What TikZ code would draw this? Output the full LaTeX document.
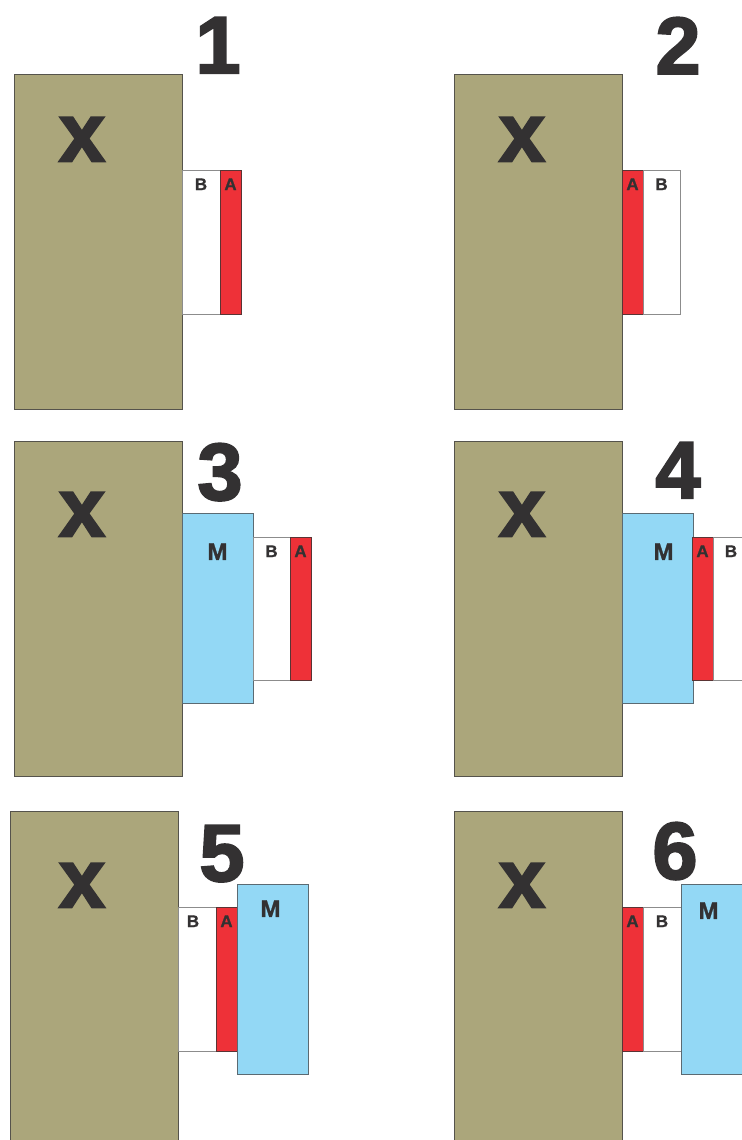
\documentclass[tikz,border=0pt]{standalone}
\usepackage{fontspec}
\setmainfont{Liberation Sans}
\newfontfamily\heavy{Liberation Sans Bold}[FakeBold=2.5]
\newfontfamily\semiheavy{Liberation Sans Bold}[FakeBold=1]
\usetikzlibrary{positioning}
\definecolor{khaki}{HTML}{ABA67B}
\definecolor{xedge}{HTML}{55534C}
\definecolor{ared}{HTML}{EE3138}
\definecolor{aedge}{HTML}{5A3434}
\definecolor{bedge}{HTML}{8C8C8C}
\definecolor{mblue}{HTML}{93D8F5}
\definecolor{medge}{HTML}{5B6A72}
\definecolor{ink}{HTML}{333132}
\tikzset{
  base/.style={rectangle, inner sep=0pt, outer sep=0pt, anchor=north west, line width=0.5pt},
  xbox/.style={base, draw=xedge, fill=khaki, minimum width=84pt, minimum height=167.5pt},
  bbox/.style={base, draw=bedge, fill=white, minimum width=19pt, minimum height=72pt},
  abox/.style={base, draw=aedge, fill=ared, minimum width=10.5pt, minimum height=72pt},
  mbox/.style={base, draw=medge, fill=mblue, minimum width=35.5pt, minimum height=95pt},
  num/.style={font=\heavy\fontsize{40.5}{40.5}\selectfont, text=ink, inner sep=0pt, anchor=north},
  big/.style={font=\heavy\fontsize{41.5}{41.5}\selectfont, text=ink, inner sep=0pt},
  tag/.style={font=\semiheavy\fontsize{8.5}{8.5}\selectfont, text=ink, inner sep=0pt},
  mtag/.style={font=\semiheavy\fontsize{12}{12}\selectfont, text=ink, inner sep=0pt}
}
\begin{document}
\begin{tikzpicture}[x=0.5pt, y=-0.5pt, node distance=4pt]
\clip (0,0) rectangle (742,1140);

% 1
\node[xbox] (x1) at (14,74) {};
\node[bbox] (b1) at (182,170) {};
\node[abox] (a1) at (220,170) {};
\node[num] (n1) at (218,17) {1};
\node[big, below=21.5pt of x1.north, xshift=-8pt] (l1) {x};
\node[tag, below=of b1.north] (tb1) {B};
\node[tag, below=of a1.north] (ta1) {A};

% 2
\node[xbox] (x2) at (454,74) {};
\node[abox] (a2) at (622,170) {};
\node[bbox, minimum width=18.5pt] (b2) at (643,170) {};
\node[num] (n2) at (678,17) {2};
\node[big, below=21.5pt of x2.north, xshift=-8pt] (l2) {x};
\node[tag, below=of a2.north] (ta2) {A};
\node[tag, below=of b2.north] (tb2) {B};

% 3
\node[xbox] (x3) at (14,441) {};
\node[mbox] (m3) at (182,513) {};
\node[bbox, minimum width=18.5pt, minimum height=71.5pt] (b3) at (253,537) {};
\node[abox, minimum height=71.5pt] (a3) at (290,537) {};
\node[num] (n3) at (220,443) {3};
\node[big, below=25.5pt of x3.north, xshift=-8pt] (l3) {x};
\node[mtag, below=15pt of m3.north] (tm3) {M};
\node[tag, below=of b3.north] (tb3) {B};
\node[tag, below=of a3.north] (ta3) {A};

% 4
\node[xbox] (x4) at (454,441) {};
\node[mbox] (m4) at (622,513) {};
\node[abox, minimum height=71.5pt] (a4) at (692,537) {};
\node[bbox, minimum width=21pt, minimum height=71.5pt] (b4) at (713,537) {};
\node[num] (n4) at (678,442) {4};
\node[big, below=25.5pt of x4.north, xshift=-8pt] (l4) {x};
\node[mtag, below=15pt of m4.north, xshift=3pt] (tm4) {M};
\node[tag, below=of a4.north] (ta4) {A};
\node[tag, below=of b4.north, xshift=-1.5pt] (tb4) {B};

% 5
\node[xbox] (x5) at (10,811) {};
\node[bbox] (b5) at (178,907) {};
\node[abox] (a5) at (216,907) {};
\node[mbox] (m5) at (237,884) {};
\node[num] (n5) at (222,825) {5};
\node[big, below=26pt of x5.north, xshift=-6pt] (l5) {x};
\node[tag, below=of b5.north, xshift=-2pt] (tb5) {B};
\node[tag, below=of a5.north] (ta5) {A};
\node[mtag, below=8pt of m5.north, xshift=-1pt] (tm5) {M};

% 6
\node[xbox] (x6) at (454,811) {};
\node[abox] (a6) at (622,907) {};
\node[bbox] (b6) at (643,907) {};
\node[mbox] (m6) at (681,884) {};
\node[num] (n6) at (675,822) {6};
\node[big, below=26pt of x6.north, xshift=-8pt] (l6) {x};
\node[tag, below=of a6.north] (ta6) {A};
\node[tag, below=of b6.north] (tb6) {B};
\node[mtag, below=9pt of m6.north, xshift=-4pt] (tm6) {M};
\end{tikzpicture}
\end{document}
